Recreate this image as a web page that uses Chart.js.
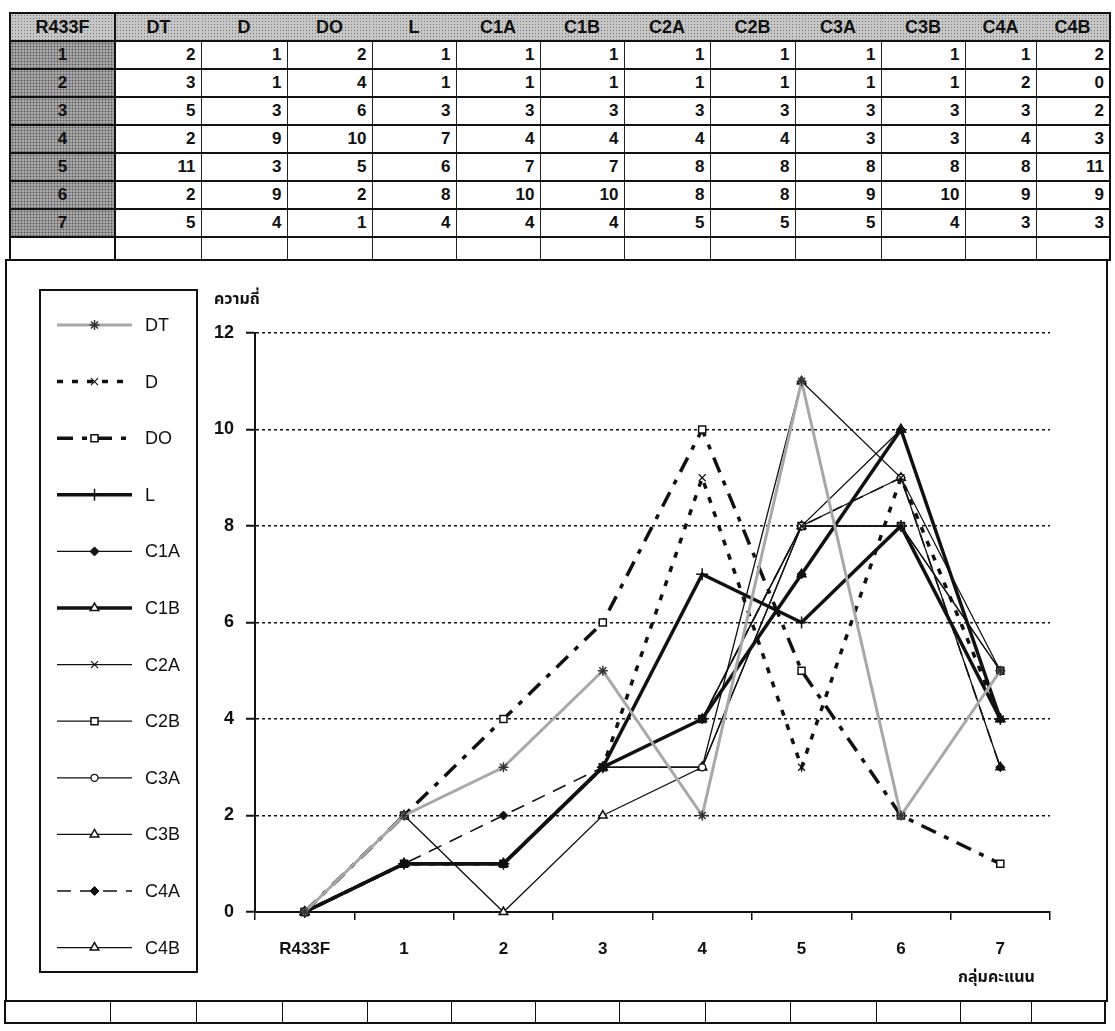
<!DOCTYPE html>
<html>
<head>
<meta charset="utf-8">
<title>R433F</title>
<script src="https://cdn.jsdelivr.net/npm/chart.js@4.4.1/dist/chart.umd.min.js"></script>
<style>
  html, body { margin: 0; padding: 0; background: #fff; }
  body { width: 1115px; height: 1031px; position: relative; overflow: hidden;
         font-family: "Liberation Sans", Arial, sans-serif; color: #111; }
  .stipple { background-color: #c6c6c6;
             background-image: radial-gradient(#7a7a7a 0.7px, transparent 1px);
             background-size: 3px 3px; }
  .stipple-dark { background-color: #a6a6a6;
             background-image: radial-gradient(#555 0.8px, transparent 1.1px);
             background-size: 3px 3px; }
  #grid { position: absolute; left: 9px; top: 12px; width: 1100px;
          border-collapse: collapse; table-layout: fixed; border: 2px solid #111; }
  #grid th { height: 26px; padding: 0; font: bold 18px "Liberation Sans", Arial, sans-serif;
             text-align: center; border-bottom: 2px solid #111; }
  #grid th:first-child { border-right: 2px solid #111; }
  #grid td { height: 26px; padding: 0 5px 0 0; text-align: right;
             font: bold 17px "Liberation Sans", Arial, sans-serif;
             border-left: 1px solid #222; border-right: 1px solid #222;
             border-top: 2px solid #111; border-bottom: 2px solid #111; }
  #grid td.rowhead { text-align: center; padding: 0; border-right: 2px solid #111; }
  #grid tr.blank td { height: 21px; }
  #frame { position: absolute; left: 5px; top: 259px; width: 1099px; height: 739px;
           border: 2px solid #111; }
  #foot { position: absolute; left: 4px; top: 1000px; width: 1100px;
          border-collapse: collapse; table-layout: fixed; border: 2px solid #111; }
  #foot td { height: 20px; border: 1.5px solid #111; padding: 0; }
  #chart { position: absolute; left: 0; top: 0; z-index: 2; }
  .axis-title { position: absolute; z-index: 3; font-weight: bold; font-size: 16px; white-space: nowrap;
                font-family: "Noto Sans Thai", "Noto Sans Thai UI", "Loma", "Garuda", "Tlwg Typo", "Noto Sans", sans-serif; }
  #ytitle { left: 214px; top: 287px; }
  #xtitle { left: 958px; top: 965px; }
</style>
</head>
<body>
<table id="grid"></table>
<div id="frame"></div>
<table id="foot"></table>
<canvas id="chart" width="1115" height="1031"></canvas>
<div class="axis-title" id="ytitle">ความถี่</div>
<div class="axis-title" id="xtitle">กลุ่มคะแนน</div>

<script>
// Score groups (first one is the base group at zero)
const categories = ['R433F', '1', '2', '3', '4', '5', '6', '7'];
const seriesNames = ['DT', 'D', 'DO', 'L', 'C1A', 'C1B', 'C2A', 'C2B', 'C3A', 'C3B', 'C4A', 'C4B'];

// Frequencies per score group
const DT  = [0, 2, 3, 5, 2, 11, 2, 5];
const D   = [0, 1, 1, 3, 9, 3, 9, 4];
const DO  = [0, 2, 4, 6, 10, 5, 2, 1];
const L   = [0, 1, 1, 3, 7, 6, 8, 4];
const C1A = [0, 1, 1, 3, 4, 7, 10, 4];
const C1B = [0, 1, 1, 3, 4, 7, 10, 4];
const C2A = [0, 1, 1, 3, 4, 8, 8, 5];
const C2B = [0, 1, 1, 3, 4, 8, 8, 5];
const C3A = [0, 1, 1, 3, 3, 8, 9, 5];
const C3B = [0, 1, 1, 3, 3, 8, 10, 4];
const C4A = [0, 1, 2, 3, 4, 8, 9, 3];
const C4B = [0, 2, 0, 2, 3, 11, 9, 3];

const yTicks = [0, 2, 4, 6, 8, 10, 12];

const seriesValues = [DT, D, DO, L, C1A, C1B, C2A, C2B, C3A, C3B, C4A, C4B];

// Line and marker look of each series
const seriesStyles = [
  { color: '#a8a8a8', width: 3,   dash: [],            point: 'star',     radius: 5,   fill: '#333', stroke: '#333', pw: 1.5 },
  { color: '#111',    width: 3.5, dash: [6, 9],        point: 'crossRot', radius: 5,   fill: '#111', stroke: '#111', pw: 1.2 },
  { color: '#111',    width: 3.5, dash: [16, 9, 5, 9], point: 'rect',     radius: 5,   fill: '#fff', stroke: '#111', pw: 1.5 },
  { color: '#111',    width: 3.5, dash: [],            point: 'cross',    radius: 6,   fill: '#111', stroke: '#111', pw: 1.5 },
  { color: '#111',    width: 1.3, dash: [],            point: 'rectRot',  radius: 4.5, fill: '#111', stroke: '#111', pw: 1 },
  { color: '#111',    width: 3.5, dash: [],            point: 'triangle', radius: 5,   fill: '#fff', stroke: '#111', pw: 1.5 },
  { color: '#111',    width: 1.3, dash: [],            point: 'crossRot', radius: 5,   fill: '#111', stroke: '#111', pw: 1.2 },
  { color: '#111',    width: 1.3, dash: [],            point: 'rect',     radius: 5,   fill: '#fff', stroke: '#111', pw: 1.5 },
  { color: '#111',    width: 1.3, dash: [],            point: 'circle',   radius: 3.5, fill: '#fff', stroke: '#111', pw: 1.3 },
  { color: '#111',    width: 1.3, dash: [],            point: 'triangle', radius: 5,   fill: '#fff', stroke: '#111', pw: 1.5 },
  { color: '#111',    width: 1.6, dash: [14, 9],       point: 'rectRot',  radius: 4.5, fill: '#111', stroke: '#111', pw: 1 },
  { color: '#111',    width: 1.3, dash: [],            point: 'triangle', radius: 5,   fill: '#fff', stroke: '#111', pw: 1.5 }
];

// ---- data table above the chart ----
(function buildTable() {
  const tbl = document.getElementById('grid');
  const colW = [105, 86, 86, 85, 84, 84, 84, 86, 85, 86, 84, 71, 74];
  const cg = document.createElement('colgroup');
  colW.forEach(w => { const c = document.createElement('col'); c.style.width = w + 'px'; cg.appendChild(c); });
  tbl.appendChild(cg);
  const head = document.createElement('tr');
  [categories[0]].concat(seriesNames).forEach(name => {
    const th = document.createElement('th');
    th.textContent = name;
    th.className = 'stipple';
    head.appendChild(th);
  });
  const thead = document.createElement('thead');
  thead.appendChild(head);
  tbl.appendChild(thead);
  const tbody = document.createElement('tbody');
  for (let r = 1; r < categories.length; r++) {
    const tr = document.createElement('tr');
    const lab = document.createElement('td');
    lab.textContent = categories[r];
    lab.className = 'rowhead stipple-dark';
    tr.appendChild(lab);
    seriesValues.forEach(vals => {
      const td = document.createElement('td');
      td.textContent = vals[r];
      tr.appendChild(td);
    });
    tbody.appendChild(tr);
  }
  const blank = document.createElement('tr');
  blank.className = 'blank';
  for (let c = 0; c <= seriesNames.length; c++) {
    const td = document.createElement('td');
    if (c === 0) td.className = 'rowhead';
    blank.appendChild(td);
  }
  tbody.appendChild(blank);
  tbl.appendChild(tbody);

  // empty spreadsheet row under the chart frame
  const foot = document.getElementById('foot');
  foot.appendChild(cg.cloneNode(true));
  const ftr = document.createElement('tr');
  colW.forEach(() => ftr.appendChild(document.createElement('td')));
  foot.appendChild(ftr);
})();

// ---- legend drawn from the dataset styles ----
const legendBox = { left: 40, top: 290, right: 197, bottom: 972, firstRow: 325, rowGap: 56.6,
                    lineFrom: 57, lineTo: 132, textX: 145 };

const sampleLegend = {
  id: 'sampleLegend',
  afterDraw(chart) {
    const ctx = chart.ctx;
    const b = legendBox;
    ctx.save();
    ctx.lineWidth = 2;
    ctx.strokeStyle = '#111';
    ctx.setLineDash([]);
    ctx.strokeRect(b.left, b.top, b.right - b.left, b.bottom - b.top);
    chart.data.datasets.forEach((ds, i) => {
      const y = b.firstRow + i * b.rowGap;
      ctx.save();
      ctx.beginPath();
      ctx.setLineDash(ds.borderDash || []);
      ctx.lineWidth = ds.borderWidth;
      ctx.strokeStyle = ds.borderColor;
      ctx.moveTo(b.lineFrom, y);
      ctx.lineTo(b.lineTo, y);
      ctx.stroke();
      ctx.restore();

      ctx.save();
      ctx.setLineDash([]);
      ctx.fillStyle = ds.pointBackgroundColor;
      ctx.strokeStyle = ds.pointBorderColor;
      ctx.lineWidth = ds.pointBorderWidth;
      Chart.helpers.drawPoint(ctx, { pointStyle: ds.pointStyle, radius: ds.pointRadius,
                                     rotation: 0, borderWidth: ds.pointBorderWidth },
                              (b.lineFrom + b.lineTo) / 2, y);
      ctx.restore();

      ctx.fillStyle = '#111';
      ctx.font = '18px "Liberation Sans", Arial, sans-serif';
      ctx.textBaseline = 'middle';
      ctx.textAlign = 'left';
      ctx.fillText(ds.label, b.textX, y + 1);
    });
    ctx.restore();
  }
};

const datasets = seriesNames.map((name, i) => {
  const s = seriesStyles[i];
  return {
    label: name,
    data: seriesValues[i],
    borderColor: s.color,
    borderWidth: s.width,
    borderDash: s.dash,
    tension: 0,
    fill: false,
    clip: false,
    pointStyle: s.point,
    pointRadius: s.radius,
    pointBackgroundColor: s.fill,
    pointBorderColor: s.stroke,
    pointBorderWidth: s.pw
  };
});

new Chart(document.getElementById('chart'), {
  type: 'line',
  data: { labels: categories, datasets: datasets },
  plugins: [sampleLegend],
  options: {
    responsive: false,
    animation: false,
    devicePixelRatio: 1,
    layout: { padding: { left: 210, top: 333, right: 65, bottom: 59 } },
    plugins: { legend: { display: false }, tooltip: { enabled: false }, title: { display: false } },
    scales: {
      x: {
        type: 'category',
        offset: true,
        grid: { offset: true, drawOnChartArea: false, drawTicks: true, tickLength: 8,
                color: '#111', lineWidth: 1.5 },
        border: { display: true, color: '#111', width: 2 },
        ticks: { color: '#111', padding: 19, maxRotation: 0, autoSkip: false,
                 font: { family: 'Liberation Sans', size: 17, weight: 'bold' } },
        afterFit(scale) { scale.height = 60; }
      },
      y: {
        min: yTicks[0],
        max: yTicks[yTicks.length - 1],
        afterBuildTicks(scale) { scale.ticks = yTicks.map(v => ({ value: v })); },
        grid: { color: '#111', lineWidth: 1.5, drawTicks: true, tickLength: 9,
                tickColor: '#111', tickWidth: 2, tickBorderDash: [] },
        border: { display: true, color: '#111', width: 2, dash: [3, 3] },
        ticks: { color: '#111', padding: 12,
                 font: { family: 'Liberation Sans', size: 18, weight: 'bold' } },
        afterFit(scale) { scale.width = 45; }
      }
    }
  }
});
</script>
</body>
</html>
